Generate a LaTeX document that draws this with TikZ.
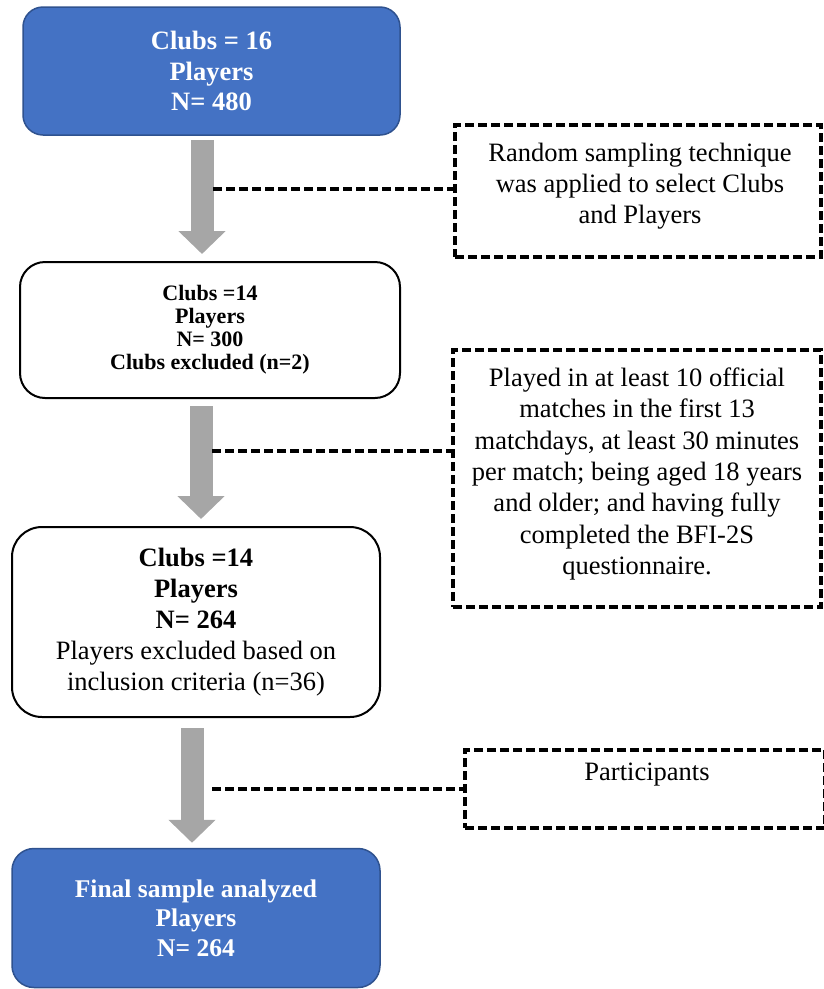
\documentclass[tikz,border=0pt]{standalone}
\usepackage{fontspec}
\setmainfont{Liberation Serif}
\usetikzlibrary{arrows.meta,calc}
\definecolor{boxblue}{HTML}{4472C4}
\definecolor{boxblueline}{HTML}{2F528F}
\definecolor{arrowgray}{HTML}{A6A6A6}
\begin{document}
\begin{tikzpicture}[x=1pt,y=-1pt,
  bluebox/.style={draw=boxblueline, line width=1.5pt, fill=boxblue, rounded corners=20pt, text=white, font=\bfseries\fontsize{26.5}{30.5}\selectfont, align=center, inner sep=0pt},
  whitebox/.style={draw=black, line width=2pt, fill=white, rounded corners=25pt, align=center, inner sep=0pt},
  notebox/.style={draw=black, line width=3.5pt, dash pattern=on 9pt off 4pt, inner sep=0pt},
  notetext/.style={font=\fontsize{26.5}{31.3}\selectfont, align=center, inner sep=0pt},
  bigarrow/.style={draw=arrowgray, line width=23pt, -{Triangle[width=46pt,length=23pt]}},
  link/.style={draw=black, line width=3.5pt, dash pattern=on 9pt off 4pt}]
\useasboundingbox (0,0) rectangle (823,989);

% main boxes
\node[bluebox, minimum width=377pt, minimum height=128pt] (b1) at (211.5,71) {Clubs = 16\\Players\\N= 480};
\node[whitebox, minimum width=380pt, minimum height=136pt, font=\bfseries\fontsize{22}{23}\selectfont] (b2) at (210,330) {Clubs =14\\Players\\N= 300\\Clubs excluded (n=2)};
\node[whitebox, rounded corners=30pt, minimum width=368pt, minimum height=190pt, font=\fontsize{26.5}{31}\selectfont] (b3) at (196,622) {\textbf{Clubs =14}\\\textbf{Players}\\\textbf{N= 264}\\Players excluded based on\\inclusion criteria (n=36)};
\node[bluebox, rounded corners=22pt, minimum width=368pt, minimum height=139pt, font=\bfseries\fontsize{25.5}{29.5}\selectfont] (b4) at (196,918) {Final sample analyzed\\Players\\N= 264};

% note boxes
\node[notebox, minimum width=366pt, minimum height=132pt] (d1) at (638,191) {};
\node[notetext] (t1) at (640,186) {Random sampling technique\\was applied to select Clubs\\and Players};
\node[notebox, minimum width=368pt, minimum height=257pt] (d2) at (637,478.5) {};
\node[notetext] (t2) at (637,474) {Played in at least 10 official\\matches in the first 13\\matchdays, at least 30 minutes\\per match; being aged 18 years\\and older; and having fully\\completed the BFI-2S\\questionnaire.};
\node[notebox, minimum width=360pt, minimum height=78pt] (d3) at (645,789) {};
\node[notetext] (t3) at (647,775) {Participants};

% arrows
\coordinate (a1) at (202,0);
\coordinate (a2) at (201,0);
\coordinate (a3) at (192,0);
\draw[bigarrow] ($(b1.south -| a1)+(0,4)$) -- ($(b2.north -| a1)+(0,-7)$);
\draw[bigarrow] ($(b2.south -| a2)+(0,7)$) -- ($(b3.north -| a2)+(0,-7)$);
\draw[bigarrow] ($(b3.south -| a3)+(0,10)$) -- ($(b4.north -| a3)+(0,-5)$);

% dashed links
\coordinate (l1) at (213,189);
\coordinate (l2) at (212,451);
\coordinate (l3) at (212,789);
\draw[link] (l1) -- (l1 -| d1.west);
\draw[link] (l2) -- (l2 -| d2.west);
\draw[link] (l3) -- (l3 -| d3.west);
\end{tikzpicture}
\end{document}
